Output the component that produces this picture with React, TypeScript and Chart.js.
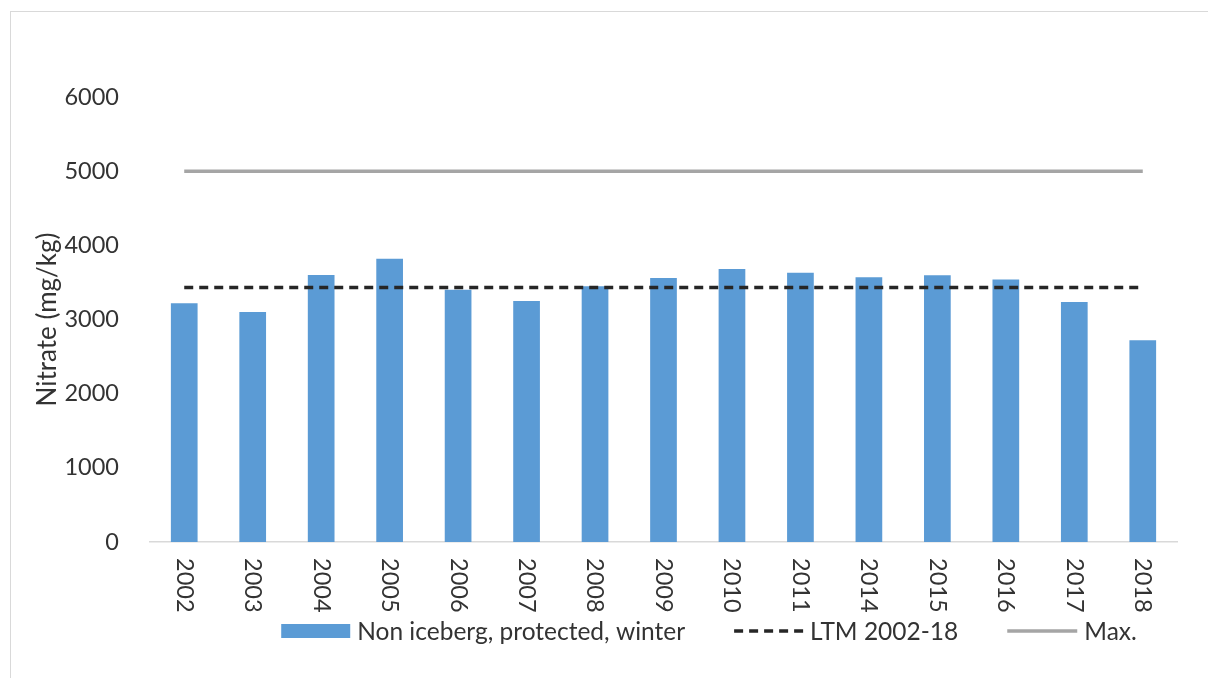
import React, { useEffect, useRef } from "react";
import { Chart, registerables } from "chart.js";

Chart.register(...registerables);

const categories = ["2002", "2003", "2004", "2005", "2006", "2007", "2008", "2009", "2010", "2011", "2014", "2015", "2016", "2017", "2018"];
const nitrateValues = [3220, 3100, 3600, 3820, 3400, 3250, 3450, 3560, 3680, 3630, 3570, 3595, 3540, 3235, 2720];
const ltmValues = [3430, 3430, 3430, 3430, 3430, 3430, 3430, 3430, 3430, 3430, 3430, 3430, 3430, 3430, 3430];
const maxValues = [5000, 5000, 5000, 5000, 5000, 5000, 5000, 5000, 5000, 5000, 5000, 5000, 5000, 5000, 5000];
const seriesNames = ["Non iceberg, protected, winter", "LTM 2002-18", "Max."];
const yTitle = "Nitrate (mg/kg)";

const FONT = "Lato, 'Open Sans', sans-serif";
const FS = 23.5;
const LEG_FS = 24.5;
const TITLE_FS = 26;
const TEXT = "#333333";

const customPlugin = {
  id: "customDecor",
  afterDraw(chart: any) {
    const ctx = chart.ctx;
    const xs = chart.scales.x;
    const area = chart.chartArea;
    ctx.save();
    ctx.font = `${FS}px ${FONT}`;
    ctx.fillStyle = TEXT;
    // rotated x labels (clockwise)
    const labels = chart.data.labels as string[];
    labels.forEach((lab, i) => {
      const x = xs.getPixelForValue(i);
      ctx.save();
      ctx.translate(x, area.bottom + 16);
      ctx.rotate(Math.PI / 2);
      ctx.textAlign = "left";
      ctx.textBaseline = "middle";
      ctx.fillText(lab, 0, 0);
      ctx.restore();
    });
    // legend
    ctx.font = `${LEG_FS}px ${FONT}`;
    const ds = chart.data.datasets;
    const symW = [69, 69, 70];
    const gapText = 7;
    const gapItem = 49;
    const widths = ds.map((d: any, i: number) => symW[i] + gapText + ctx.measureText(d.label).width);
    const total = widths.reduce((a: number, b: number) => a + b, 0) + gapItem * (ds.length - 1);
    let x = 709 - total / 2;
    const cy = 631;
    ds.forEach((d: any, i: number) => {
      if (d.type === "bar") {
        ctx.fillStyle = d.backgroundColor;
        ctx.fillRect(x, cy - 7, symW[i], 14);
      } else {
        ctx.save();
        ctx.strokeStyle = d.borderColor;
        ctx.lineWidth = d.borderWidth;
        ctx.setLineDash(d.borderDash || []);
        ctx.beginPath();
        ctx.moveTo(x, cy);
        ctx.lineTo(x + symW[i], cy);
        ctx.stroke();
        ctx.restore();
      }
      ctx.fillStyle = TEXT;
      ctx.textAlign = "left";
      ctx.textBaseline = "middle";
      ctx.fillText(d.label, x + symW[i] + gapText, cy + 1);
      x += widths[i] + gapItem;
    });
    ctx.restore();
  },
};

export default function App() {
  const ref = useRef<HTMLCanvasElement>(null);
  useEffect(() => {
    if (!ref.current) return;
    const chart = new Chart(ref.current, {
      type: "bar",
      data: {
        labels: categories,
        datasets: [
          {
            type: "bar",
            label: seriesNames[0],
            data: nitrateValues,
            backgroundColor: "#5B9BD5",
            borderWidth: 0,
            barPercentage: 0.39,
            categoryPercentage: 1,
            order: 2,
          } as any,
          {
            type: "line",
            label: seriesNames[1],
            data: ltmValues,
            borderColor: "#262626",
            borderWidth: 3.5,
            borderDash: [9, 6],
            pointRadius: 0,
            fill: false,
            order: 0,
          },
          {
            type: "line",
            label: seriesNames[2],
            data: maxValues,
            borderColor: "#A5A5A5",
            borderWidth: 3.5,
            pointRadius: 0,
            fill: false,
            order: 1,
          },
        ],
      },
      options: {
        responsive: false,
        animation: false,
        devicePixelRatio: 1,
        layout: { padding: { left: 0, right: 31, top: 97, bottom: 0 } },
        plugins: { legend: { display: false }, tooltip: { enabled: false } },
        scales: {
          x: {
            type: "category",
            offset: true,
            grid: { display: false },
            border: { display: true, color: "#D9D9D9", width: 1.5 },
            ticks: { display: false },
            afterFit: (s: any) => {
              s.height = 136;
            },
          },
          y: {
            min: 0,
            max: 6000,
            grid: { display: false },
            border: { display: false },
            ticks: {
              stepSize: 1000,
              padding: 23,
              color: TEXT,
              font: { family: FONT, size: FS },
              callback: (v: any) => String(v),
            },
            title: {
              display: true,
              text: yTitle,
              color: TEXT,
              font: { family: FONT, size: TITLE_FS },
              padding: { top: 32, bottom: 0 },
            },
            afterFit: (s: any) => {
              s.width = 150;
            },
          },
        },
      },
      plugins: [customPlugin],
    });
    return () => chart.destroy();
  }, []);

  return (
    <div style={{ position: "fixed", left: 0, top: 0, width: 1208, height: 678, background: "#fff", overflow: "hidden" }}>
      <div
        style={{
          position: "absolute",
          left: 10,
          top: 11,
          width: 1300,
          height: 800,
          borderLeft: "1.5px solid #D9D9D9",
          borderTop: "1.5px solid #D9D9D9",
        }}
      />
      <canvas ref={ref} width={1208} height={678} style={{ position: "absolute", left: 0, top: 0, width: 1208, height: 678 }} />
    </div>
  );
}
